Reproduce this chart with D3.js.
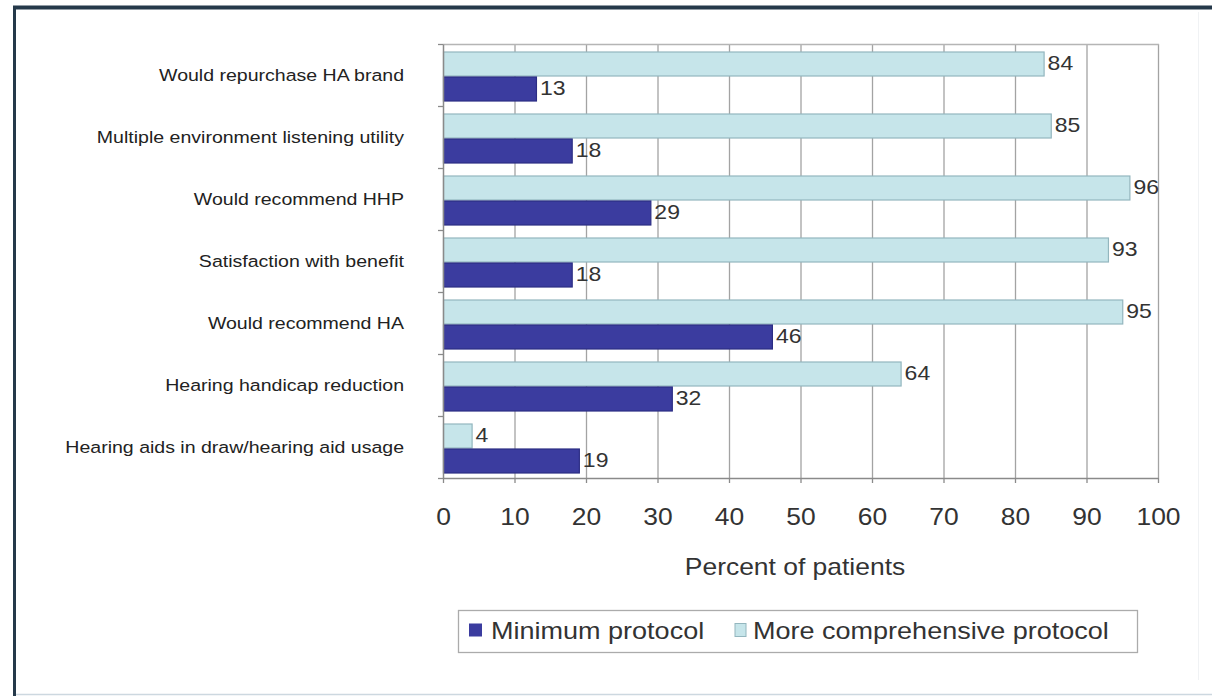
<!DOCTYPE html>
<html>
<head>
<meta charset="utf-8">
<script src="https://cdn.jsdelivr.net/npm/d3@7"></script>
<style>
  html, body { margin: 0; padding: 0; background: #fff; }
  svg { display: block; font-family: Arial, "Liberation Sans", sans-serif; }
</style>
</head>
<body>
<svg id="chart" width="1212" height="696"></svg>
<script>
// Outcome measures (top to bottom)
const categories = [
  "Would repurchase HA brand",
  "Multiple environment listening utility",
  "Would recommend HHP",
  "Satisfaction with benefit",
  "Would recommend HA",
  "Hearing handicap reduction",
  "Hearing aids in draw/hearing aid usage"
];
const seriesNames = ["More comprehensive protocol", "Minimum protocol"];
const comprehensive = [84, 85, 96, 93, 95, 64, 4];
const minimum = [13, 18, 29, 18, 46, 32, 19];
const xTicks = [0, 10, 20, 30, 40, 50, 60, 70, 80, 90, 100];
const xTitle = "Percent of patients";
const legendItems = ["Minimum protocol", "More comprehensive protocol"];

const colors = {
  "Minimum protocol": { fill: "#3b3c9f", stroke: "#2c2d84" },
  "More comprehensive protocol": { fill: "#c6e5ea", stroke: "#93b6be" }
};

const SX = 1.15; // horizontal text stretch
const svg = d3.select("#chart");

// page frame
svg.append("line").attr("x1", 13).attr("x2", 1212).attr("y1", 7.5).attr("y2", 7.5)
  .attr("stroke", "#25394a").attr("stroke-width", 4);
svg.append("line").attr("x1", 14.5).attr("x2", 14.5).attr("y1", 6).attr("y2", 696)
  .attr("stroke", "#25394a").attr("stroke-width", 3);
svg.append("line").attr("x1", 16).attr("x2", 1212).attr("y1", 694.5).attr("y2", 694.5)
  .attr("stroke", "#cdd8e0").attr("stroke-width", 1.5);
svg.append("line").attr("x1", 1198.5).attr("x2", 1198.5).attr("y1", 12).attr("y2", 680)
  .attr("stroke", "#f0f2f4").attr("stroke-width", 1);

const plot = { left: 443, right: 1158, top: 44, bottom: 478 };

const x = d3.scaleLinear().domain([0, 100]).range([plot.left, plot.right]);
const y = d3.scaleBand().domain(categories).range([plot.top, plot.bottom]).padding(0);
const sub = d3.scaleBand().domain(seriesNames).range([8, y.bandwidth() - 5]).paddingInner(0.04);

// vertical gridlines and plot border
svg.append("g").selectAll("line").data(xTicks.slice(1)).join("line")
  .attr("x1", d => x(d) + 0.5).attr("x2", d => x(d) + 0.5)
  .attr("y1", plot.top).attr("y2", plot.bottom)
  .attr("stroke", "#a3a3a3").attr("stroke-width", 1.3);
svg.append("line").attr("x1", plot.left).attr("x2", plot.right + 1)
  .attr("y1", plot.top + 0.5).attr("y2", plot.top + 0.5)
  .attr("stroke", "#b5b5b5").attr("stroke-width", 1.3);

// bars
const rows = categories.map((c, i) => ({
  cat: c,
  values: [
    { key: "More comprehensive protocol", v: comprehensive[i] },
    { key: "Minimum protocol", v: minimum[i] }
  ]
}));

const rowG = svg.append("g").selectAll("g").data(rows).join("g")
  .attr("transform", d => `translate(0,${y(d.cat)})`);

rowG.selectAll("rect").data(d => d.values).join("rect")
  .attr("x", x(0) + 0.5)
  .attr("y", d => sub(d.key))
  .attr("width", d => x(d.v) - x(0))
  .attr("height", sub.bandwidth())
  .attr("fill", d => colors[d.key].fill)
  .attr("stroke", d => colors[d.key].stroke)
  .attr("stroke-width", 1.2);

// value labels
rowG.selectAll("text").data(d => d.values).join("text")
  .attr("transform", d => `translate(${x(d.v) + 4},${sub(d.key) + sub.bandwidth() / 2 - 1.5}) scale(${SX},1)`)
  .attr("dy", "0.36em")
  .attr("font-size", 20)
  .attr("fill", "#333")
  .text(d => d.v);

// x axis
const xAxis = svg.append("g")
  .attr("transform", `translate(0,${plot.bottom})`)
  .call(d3.axisBottom(x).tickValues(xTicks).tickSize(5).tickPadding(0).tickSizeOuter(0));
xAxis.select(".domain").attr("stroke", "#8a8a8a").attr("stroke-width", 1.5);
xAxis.selectAll(".tick line").attr("stroke", "#8a8a8a").attr("stroke-width", 1.3);
xAxis.selectAll(".tick text")
  .attr("y", 31)
  .attr("font-size", 23)
  .attr("fill", "#333")
  .attr("transform", `scale(${SX},1)`);

// y axis: ticks at category boundaries
const yEdge = d3.scaleLinear().domain([0, categories.length]).range([plot.top, plot.bottom]);
const yAxis = svg.append("g")
  .attr("transform", `translate(${plot.left},0)`)
  .call(d3.axisLeft(yEdge).ticks(categories.length).tickFormat("").tickSize(5).tickSizeOuter(0));
yAxis.select(".domain").attr("stroke", "#8a8a8a").attr("stroke-width", 1.5);
yAxis.selectAll(".tick line").attr("stroke", "#8a8a8a").attr("stroke-width", 1.3);

// category labels
svg.append("g").selectAll("text").data(categories).join("text")
  .attr("transform", d => `translate(404,${y(d) + y.bandwidth() / 2}) scale(${SX},1)`)
  .attr("text-anchor", "end")
  .attr("dy", "0.35em")
  .attr("font-size", 17)
  .attr("fill", "#222")
  .text(d => d);

// axis title
svg.append("text")
  .attr("transform", `translate(795,575) scale(${SX},1)`)
  .attr("text-anchor", "middle")
  .attr("font-size", 23)
  .attr("fill", "#333")
  .text(xTitle);

// legend
const legend = svg.append("g");
legend.append("rect").attr("x", 458.5).attr("y", 610.5).attr("width", 679).attr("height", 42)
  .attr("fill", "#fff").attr("stroke", "#ababab").attr("stroke-width", 1.3);
const legendPos = [{ mx: 469, tx: 491 }, { mx: 735, tx: 753 }];
legendItems.forEach((name, i) => {
  legend.append("rect")
    .attr("x", legendPos[i].mx).attr("y", 623.5)
    .attr("width", i === 0 ? 13 : 11).attr("height", 13)
    .attr("fill", colors[name].fill)
    .attr("stroke", i === 0 ? "none" : colors[name].stroke)
    .attr("stroke-width", 1);
  legend.append("text")
    .attr("transform", `translate(${legendPos[i].tx},639) scale(${SX},1)`)
    .attr("font-size", 23.5)
    .attr("fill", "#333")
    .text(name);
});
</script>
</body>
</html>
